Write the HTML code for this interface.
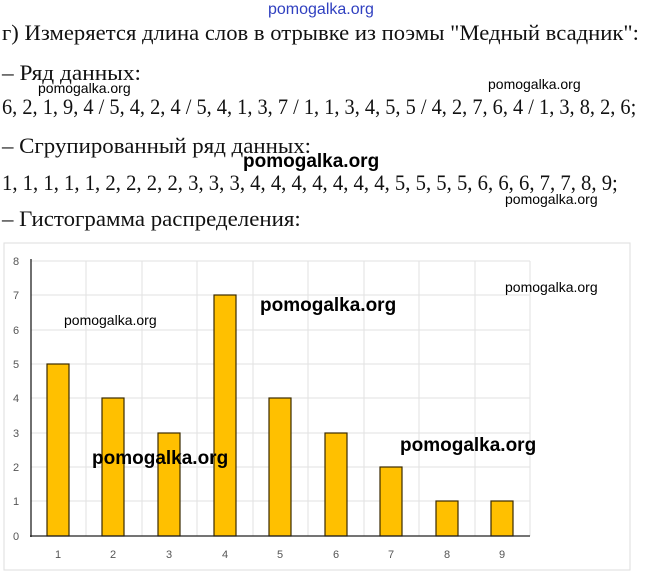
<!DOCTYPE html><html><head><meta charset="utf-8"><style>
body{margin:0;width:646px;height:573px;background:#fff;position:relative;overflow:hidden;font-family:"Liberation Serif","DejaVu Serif",serif;}
.t{position:absolute;left:2px;font-size:22px;color:#111;white-space:nowrap;transform-origin:0 0;}
.w{position:absolute;font-family:"Liberation Sans","DejaVu Sans",sans-serif;color:#000;white-space:nowrap;}
</style></head><body>
<div class="w" style="left:268px;top:1px;font-size:16px;color:#3040c0;">pomogalka.org</div>
<div class="t" style="top:20px;transform:scaleX(1.03);">г) Измеряется длина слов в отрывке из поэмы "Медный всадник":</div>
<div class="t" style="top:60px;transform:scaleX(1.06);">– Ряд данных:</div>
<div class="w" style="left:38px;top:80px;font-size:14px;">pomogalka.org</div>
<div class="w" style="left:488px;top:76px;font-size:14px;">pomogalka.org</div>
<div class="t" style="top:94px;transform:scaleX(0.925);">6, 2, 1, 9, 4 / 5, 4, 2, 4 / 5, 4, 1, 3, 7 / 1, 1, 3, 4, 5, 5 / 4, 2, 7, 6, 4 / 1, 3, 8, 2, 6;</div>
<div class="t" style="top:133px;transform:scaleX(1.04);">– Сгрупированный ряд данных:</div>
<div class="w" style="left:243px;top:151px;font-size:19px;font-weight:bold;">pomogalka.org</div>
<div class="t" style="top:170px;transform:scaleX(0.94);">1, 1, 1, 1, 1, 2, 2, 2, 2, 3, 3, 3, 4, 4, 4, 4, 4, 4, 4, 5, 5, 5, 5, 6, 6, 6, 7, 7, 8, 9;</div>
<div class="w" style="left:505px;top:191px;font-size:14px;">pomogalka.org</div>
<div class="t" style="top:206px;transform:scaleX(1.04);">– Гистограмма распределения:</div>
<svg style="position:absolute;left:0;top:0" width="646" height="573">
<rect x="4" y="243" width="626" height="327" fill="none" stroke="#ddd"/>
<g stroke="#e2e2e2" stroke-width="1">
<line x1="31" y1="295" x2="530" y2="295"/><line x1="31" y1="330" x2="530" y2="330"/><line x1="31" y1="364" x2="530" y2="364"/><line x1="31" y1="398" x2="530" y2="398"/><line x1="31" y1="433" x2="530" y2="433"/><line x1="31" y1="467" x2="530" y2="467"/><line x1="31" y1="501" x2="530" y2="501"/><line x1="31" y1="261" x2="530" y2="261"/>
<line x1="86" y1="261" x2="86" y2="536"/><line x1="142" y1="261" x2="142" y2="536"/><line x1="197" y1="261" x2="197" y2="536"/><line x1="253" y1="261" x2="253" y2="536"/><line x1="308" y1="261" x2="308" y2="536"/><line x1="364" y1="261" x2="364" y2="536"/><line x1="419" y1="261" x2="419" y2="536"/><line x1="475" y1="261" x2="475" y2="536"/><line x1="530" y1="261" x2="530" y2="536"/>
</g>
<g fill="#ffc000" stroke="#3a2a00" stroke-width="1.2">
<rect x="47" y="364" width="22" height="172"/><rect x="102" y="398" width="22" height="138"/><rect x="158" y="433" width="22" height="103"/><rect x="214" y="295" width="22" height="241"/><rect x="269" y="398" width="22" height="138"/><rect x="325" y="433" width="22" height="103"/><rect x="380" y="467" width="22" height="69"/><rect x="436" y="501" width="22" height="35"/><rect x="491" y="501" width="22" height="35"/>
</g>
<line x1="31" y1="259" x2="31" y2="537" stroke="#222" stroke-width="1.3"/>
<line x1="30" y1="536" x2="530" y2="536" stroke="#222" stroke-width="1.3"/>
<g font-family="Liberation Sans,sans-serif" font-size="11" fill="#555">
<text x="13" y="265">8</text><text x="13" y="299">7</text><text x="13" y="334">6</text><text x="13" y="368">5</text><text x="13" y="402">4</text><text x="13" y="437">3</text><text x="13" y="471">2</text><text x="13" y="505">1</text><text x="13" y="540">0</text>
<g text-anchor="middle"><text x="58" y="558">1</text><text x="113" y="558">2</text><text x="169" y="558">3</text><text x="225" y="558">4</text><text x="280" y="558">5</text><text x="336" y="558">6</text><text x="391" y="558">7</text><text x="447" y="558">8</text><text x="502" y="558">9</text></g>
</g>
</svg>
<div class="w" style="left:64px;top:312px;font-size:14px;">pomogalka.org</div>
<div class="w" style="left:260px;top:295px;font-size:19px;font-weight:bold;">pomogalka.org</div>
<div class="w" style="left:505px;top:279px;font-size:14px;">pomogalka.org</div>
<div class="w" style="left:92px;top:448px;font-size:19px;font-weight:bold;">pomogalka.org</div>
<div class="w" style="left:400px;top:435px;font-size:19px;font-weight:bold;">pomogalka.org</div>
</body></html>
